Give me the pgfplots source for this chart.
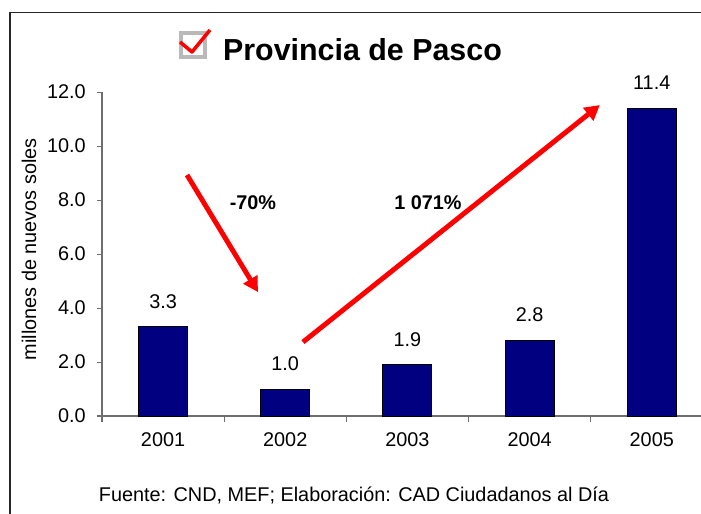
\documentclass[border=0pt]{standalone}
\usepackage{pgfplots}
\pgfplotsset{compat=1.18}
\usepackage{fontspec}
\setmainfont{Liberation Sans}
\usetikzlibrary{arrows.meta}

\definecolor{barblue}{RGB}{0,0,128}
\definecolor{axisgray}{RGB}{110,110,110}
\newcommand\lbl{\fontsize{11.3}{13.5}\selectfont}

\begin{document}
\begin{tikzpicture}[x=0.02cm,y=0.02cm]
% page = 701 x 514 px, 1px = 0.02cm
\path[use as bounding box] (0,0) rectangle (701,514);
\clip (0,0) rectangle (701,514);

% outer frame (only left and top visible)
\draw[line width=0.9pt, black!85] (10,-20) -- (10,501.5) -- (720,501.5);

\begin{axis}[
    at={(2.04cm,1.96cm)}, anchor=south west,
    width=12.22cm, height=6.48cm, scale only axis,
    ybar, bar width=0.98cm,
    xmin=-0.5, xmax=4.5, ymin=0, ymax=12,
    clip=false,
    axis lines=left,
    axis line style={-, draw=axisgray, line width=0.6pt},
    tick style={draw=axisgray, line width=0.6pt},
    tick align=outside,
    major tick length=0.1cm,
    minor tick length=0.12cm,
    xtick={0,1,2,3,4},
    xticklabels={2001,2002,2003,2004,2005},
    major x tick style={draw=none},
    minor xtick={-0.5,0.5,1.5,2.5,3.5,4.5},
    ytick={0,2,4,6,8,10,12},
    /pgf/number format/assume math mode=true,
    yticklabel style={/pgf/number format/fixed, /pgf/number format/fixed zerofill,
        /pgf/number format/precision=1, xshift=-0.1cm},
    ticklabel style={font=\lbl},
    xticklabel style={yshift=-0.1cm},
    ylabel={millones de nuevos soles},
    every axis y label/.style={at={(axis description cs:-0.1195,0.515)}, rotate=90, anchor=center, font=\lbl},
    nodes near coords,
    nodes near coords style={font=\lbl, anchor=south, inner sep=0pt, yshift=0.36cm,
        /pgf/number format/fixed, /pgf/number format/fixed zerofill,
        /pgf/number format/precision=1},
]
\addplot[fill=barblue, draw=black, line width=0.5pt]
    coordinates {(0,3.3) (1,1.0) (2,1.9) (3,2.8) (4,11.4)};

% annotations
\draw[red, line width=2.8pt, -{Triangle[length=8.5pt, width=9pt]}]
    (axis cs:0.196,8.93) -- (axis cs:0.777,4.59);
\draw[red, line width=2.8pt, -{Triangle[length=8.5pt, width=9pt]}]
    (axis cs:1.145,2.74) -- (axis cs:3.575,11.52);
\node[font=\lbl\bfseries] at (axis cs:0.736,7.89) {-70\%};
\node[font=\lbl\bfseries] at (axis cs:2.168,7.89) {1 071\%};
\end{axis}

% title with check box
\draw[gray!55, line width=1.8pt] (181,457) rectangle (205,481);
\draw[red, line width=2pt, line join=round] (180,472) -- (192,462) -- (210,484);
\node[font=\fontsize{17.3}{20}\selectfont\bfseries] at (362.5,464) {Provincia de Pasco};

% source
\node[font=\lbl] at (354,19) {Fuente: CND, MEF; Elaboración: CAD Ciudadanos al Día};
\end{tikzpicture}
\end{document}
